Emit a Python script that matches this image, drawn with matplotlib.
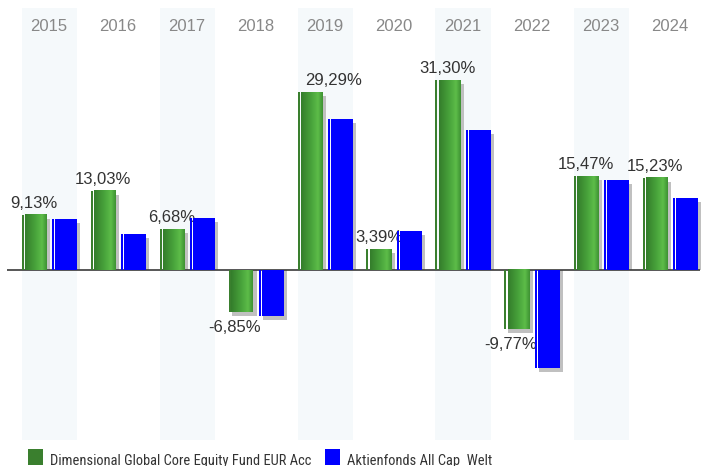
import numpy as np
import matplotlib
matplotlib.use("Agg")
import matplotlib.pyplot as plt
from matplotlib import font_manager
from matplotlib.colors import LinearSegmentedColormap
from matplotlib.patches import Rectangle

years = ["2015", "2016", "2017", "2018", "2019", "2020", "2021", "2022", "2023", "2024"]
fund = [9.13, 13.03, 6.68, -6.85, 29.29, 3.39, 31.30, -9.77, 15.47, 15.23]
peer = [8.4, 5.9, 8.6, -7.6, 24.9, 6.4, 23.1, -16.1, 14.8, 11.9]
fund_name = "Dimensional Global Core Equity Fund EUR Acc"
peer_name = "Aktienfonds All Cap  Welt"

plt.rcParams["font.family"] = "Liberation Sans"

W, H = 703, 466
PX = 1 / 69.0    # category units per pixel
PY = 1 / 6.07    # percent per pixel
ZERO = 270       # pixel row of the zero line

green = "#3a7f2e"
blue = "#0000ff"
shadow = "#c0c0c0"
cm = LinearSegmentedColormap.from_list(
    "g", [(0, "#347d2b"), (0.5, "#4aa53c"), (0.78, "#5dbd49"), (1, "#3e9233")])
grad = np.linspace(0, 1, 64).reshape(1, -1)

fig = plt.figure(figsize=(W / 100, H / 100), dpi=100)
ax = fig.add_axes([0, 0, 1, 1])
ax.set_axis_off()

x = np.arange(len(years))
fund_a = np.array(fund)
peer_a = np.array(peer)

# light bands behind every second year
for i in x[::2]:
    ax.axvspan(i - 27.5 * PX, i + 27.5 * PX, ymin=1 - 440 / H, ymax=1 - 8 / H,
               color="#f5f9fb", lw=0, zorder=0)

# drop shadows
ax.bar(x - 24 * PX, fund_a - 4 * PY, width=24.5 * PX, align="edge", color=shadow, lw=0, zorder=1)
ax.bar(x + 6.5 * PX, peer_a - 4 * PY, width=24.5 * PX, align="edge", color=shadow, lw=0, zorder=1)

ax.plot([(7 - 49) * PX, (700 - 49) * PX], [0, 0], color="#3a3a3a", lw=1.2, zorder=2,
        solid_capstyle="butt")

# fund bars: thin strip, white gap, gradient body
ax.bar(x - 27.5 * PX, fund_a, width=2 * PX, align="edge", color=green, lw=0, zorder=3)
for xi, v in zip(x, fund_a):
    ax.imshow(grad, cmap=cm, aspect="auto", interpolation="bilinear", zorder=3,
              extent=(xi - 24.5 * PX, xi - 3 * PX, min(0, v), max(0, v)))

# value labels (2019 label sits a bit to the right in the original)
nudge = {4: 24}
for i, (xi, v) in enumerate(zip(x, fund_a)):
    s = f"{v:.2f}%".replace(".", ",")
    dx = nudge.get(i, 0)
    if v >= 0:
        ax.text(xi + (dx - 15.25) * PX, v + 7 * PY, s, ha="center", va="baseline",
                fontsize=12, color="#333333", zorder=4)
    else:
        ax.text(xi + (dx - 21) * PX, v - 20 * PY, s, ha="center", va="baseline",
                fontsize=12, color="#333333", zorder=4)

# peer bars
ax.bar(x + 3 * PX, peer_a, width=1.6 * PX, align="edge", color=blue, lw=0, zorder=5)
ax.bar(x + 6 * PX, peer_a, width=21.5 * PX, align="edge", color=blue, lw=0, zorder=5)

for xi, yr in zip(x, years):
    ax.text(xi, 1 - 31 / H, yr, transform=ax.get_xaxis_transform(), ha="center",
            va="baseline", fontsize=12, color="#888888")

ax.set_xlim(-49 * PX, (W - 49) * PX)
ax.set_ylim(-(H - ZERO) * PY, ZERO * PY)

# legend: use a narrow face if there is one, else shrink to the original width
installed = {f.name for f in font_manager.fontManager.ttflist}
leg_font = "Liberation Sans"
for cand in ["Liberation Sans Narrow", "DejaVu Sans Condensed", "Roboto Condensed"]:
    if cand in installed:
        leg_font = cand
        break

fig.add_artist(Rectangle((28 / W, 1 - 465 / H), 15 / W, 16 / H, transform=fig.transFigure,
                         color=green, lw=0))
t1 = fig.text(50 / W, 1 - 464.5 / H, fund_name, fontsize=10.5, color="#333333",
              va="baseline", family=leg_font)
fig.add_artist(Rectangle((325 / W, 1 - 465 / H), 15 / W, 16 / H, transform=fig.transFigure,
                         color=blue, lw=0))
t2 = fig.text(347 / W, 1 - 464.5 / H, peer_name, fontsize=10.5, color="#333333",
              va="baseline", family=leg_font)

r = fig.canvas.get_renderer()
w1 = t1.get_window_extent(r).width
fs = 10.5 * 263 / w1
t1.set_fontsize(fs)
t2.set_fontsize(fs)

fig.savefig("out.png", dpi=100)
